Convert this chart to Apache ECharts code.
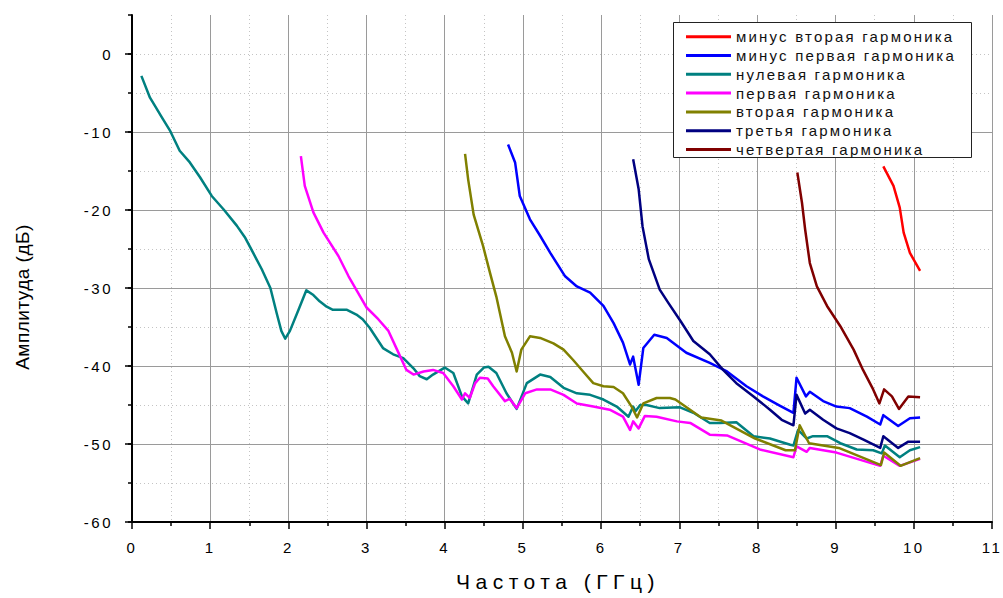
<!DOCTYPE html>
<html>
<head>
<meta charset="utf-8">
<script src="https://cdn.jsdelivr.net/npm/echarts@6/dist/echarts.min.js"></script>
<style>
  html, body { margin: 0; padding: 0; background: #fff; }
  #chart { width: 1003px; height: 598px; }
</style>
</head>
<body>
<div id="chart"></div>
<script>
// Harmonic spectra: frequency (GHz) vs amplitude (dB)
const seriesNames = [
  'минус вторая гармоника',
  'минус первая гармоника',
  'нулевая гармоника',
  'первая гармоника',
  'вторая гармоника',
  'третья гармоника',
  'четвертая гармоника'
];
const seriesColors = ['#ff0000', '#0000ff', '#008080', '#ff00ff', '#808000', '#000080', '#800000'];

const xTickValues = [0, 1, 2, 3, 4, 5, 6, 7, 8, 9, 10, 11];
const yTickValues = [-60, -50, -40, -30, -20, -10, 0];
const xAxisTitle = 'Частота (ГГц)';
const yAxisTitle = 'Амплитуда (дБ)';

const minus2Freq = [9.61, 9.74, 9.82, 9.87, 9.95, 10.08];
const minus2Amp  = [-14.4, -16.9, -19.7, -22.9, -25.5, -27.8];

const minus1Freq = [4.81, 4.90, 4.96, 5.09, 5.22, 5.35, 5.54, 5.69, 5.86, 6.03, 6.16, 6.28, 6.37, 6.41, 6.48, 6.54, 6.68, 6.84, 7.09, 7.39, 7.61, 7.86, 8.07, 8.29, 8.46, 8.50, 8.62, 8.67, 8.84, 9.01, 9.18, 9.40, 9.57, 9.61, 9.80, 9.95, 10.08];
const minus1Amp  = [-11.6, -13.9, -18.2, -21.2, -23.3, -25.5, -28.5, -29.8, -30.6, -32.3, -34.5, -37.0, -39.8, -38.8, -42.4, -37.7, -36.0, -36.4, -38.3, -39.6, -40.7, -42.6, -43.9, -45.1, -46.0, -41.5, -43.9, -43.3, -44.5, -45.2, -45.4, -46.5, -47.5, -46.3, -47.7, -46.7, -46.6];

const zeroFreq = [0.12, 0.23, 0.29, 0.38, 0.49, 0.61, 0.74, 0.87, 1.02, 1.17, 1.34, 1.45, 1.55, 1.66, 1.77, 1.85, 1.91, 1.96, 2.02, 2.13, 2.23, 2.32, 2.40, 2.49, 2.57, 2.75, 2.87, 2.95, 3.04, 3.21, 3.34, 3.47, 3.60, 3.68, 3.77, 3.85, 4.00, 4.11, 4.22, 4.30, 4.41, 4.50, 4.56, 4.66, 4.79, 4.92, 5.05, 5.22, 5.35, 5.52, 5.69, 5.86, 6.03, 6.20, 6.35, 6.41, 6.44, 6.50, 6.58, 6.75, 7.01, 7.18, 7.39, 7.52, 7.73, 7.95, 8.16, 8.42, 8.46, 8.52, 8.63, 8.71, 8.89, 9.06, 9.27, 9.48, 9.59, 9.63, 9.82, 9.95, 10.08];
const zeroAmp  = [-2.8, -5.6, -6.6, -8.1, -9.9, -12.4, -13.9, -15.8, -18.2, -19.9, -22.0, -23.6, -25.5, -27.6, -30.0, -33.2, -35.5, -36.5, -35.5, -32.8, -30.3, -30.9, -31.7, -32.4, -32.8, -32.8, -33.4, -34.0, -35.1, -37.7, -38.5, -39.0, -40.3, -41.3, -41.7, -41.1, -40.2, -40.9, -43.9, -44.8, -41.1, -40.2, -40.1, -40.9, -43.5, -45.5, -42.2, -41.1, -41.4, -42.8, -43.5, -43.7, -44.3, -45.2, -46.5, -45.2, -45.8, -45.0, -45.0, -45.4, -45.3, -46.0, -47.3, -47.3, -47.2, -49.0, -49.3, -50.1, -50.2, -48.2, -49.3, -49.0, -49.0, -49.9, -50.7, -50.8, -51.2, -50.2, -51.7, -50.8, -50.4];

const firstFreq = [2.16, 2.21, 2.32, 2.45, 2.64, 2.77, 2.89, 3.00, 3.15, 3.28, 3.39, 3.51, 3.60, 3.73, 3.85, 3.98, 4.11, 4.22, 4.26, 4.32, 4.39, 4.45, 4.55, 4.62, 4.77, 4.83, 4.92, 5.03, 5.18, 5.35, 5.52, 5.69, 5.90, 6.11, 6.28, 6.37, 6.41, 6.48, 6.56, 6.71, 6.97, 7.14, 7.39, 7.61, 8.03, 8.46, 8.50, 8.63, 8.67, 9.01, 9.57, 9.61, 9.82, 10.08];
const firstAmp  = [-13.1, -16.9, -20.3, -22.9, -25.9, -28.5, -30.6, -32.5, -34.0, -35.5, -37.9, -40.5, -41.1, -40.7, -40.5, -40.9, -42.6, -44.3, -43.5, -44.1, -42.2, -41.5, -41.6, -42.6, -44.5, -44.2, -45.4, -43.5, -43.0, -43.0, -43.7, -44.8, -45.2, -45.6, -46.5, -48.2, -47.1, -48.0, -46.4, -46.5, -47.1, -47.3, -48.8, -48.9, -50.7, -51.7, -50.3, -51.0, -50.5, -51.1, -52.8, -51.5, -52.8, -51.9];

const secondFreq = [4.26, 4.30, 4.37, 4.49, 4.58, 4.66, 4.77, 4.86, 4.92, 4.98, 5.09, 5.22, 5.39, 5.52, 5.64, 5.77, 5.90, 6.03, 6.16, 6.28, 6.39, 6.46, 6.54, 6.71, 6.88, 6.95, 7.28, 7.54, 7.97, 8.36, 8.48, 8.54, 8.66, 9.04, 9.58, 9.62, 9.83, 10.08];
const secondAmp  = [-12.8, -16.1, -20.6, -24.6, -28.1, -31.1, -36.2, -38.3, -40.7, -37.9, -36.2, -36.4, -37.1, -37.9, -39.2, -40.7, -42.2, -42.6, -42.7, -43.5, -45.2, -46.6, -44.8, -44.1, -44.1, -44.3, -46.6, -47.0, -49.3, -50.8, -50.8, -47.6, -49.9, -50.5, -52.7, -51.1, -52.8, -51.8];

const thirdFreq = [6.41, 6.48, 6.53, 6.61, 6.75, 6.86, 7.02, 7.18, 7.39, 7.56, 7.73, 7.95, 8.16, 8.31, 8.46, 8.50, 8.61, 8.67, 8.84, 9.01, 9.18, 9.35, 9.57, 9.61, 9.80, 9.93, 10.08];
const thirdAmp  = [-13.5, -17.3, -22.1, -26.3, -30.2, -31.9, -34.3, -36.8, -38.5, -40.5, -42.2, -43.9, -45.6, -46.9, -47.6, -43.7, -46.1, -45.6, -46.9, -48.0, -48.6, -49.4, -50.5, -49.0, -50.5, -49.7, -49.7];

const fourthFreq = [8.51, 8.57, 8.61, 8.67, 8.76, 8.89, 9.06, 9.23, 9.35, 9.48, 9.56, 9.62, 9.72, 9.81, 9.93, 10.08];
const fourthAmp  = [-15.2, -19.1, -22.5, -26.8, -29.8, -32.3, -34.9, -37.9, -40.5, -43.0, -44.8, -43.0, -43.9, -45.5, -43.9, -44.0];

const curves = [
  [minus2Freq, minus2Amp],
  [minus1Freq, minus1Amp],
  [zeroFreq, zeroAmp],
  [firstFreq, firstAmp],
  [secondFreq, secondAmp],
  [thirdFreq, thirdAmp],
  [fourthFreq, fourthAmp]
];

const chart = echarts.init(document.getElementById('chart'), null, { renderer: 'svg' });

const font = 'Arial';
const gridColor = '#9a9a9a';
const minorGridColor = '#c4c4c4';

const option = {
  animation: false,
  backgroundColor: '#fff',
  grid: { left: 132, right: 11, top: 15, bottom: 76, containLabel: false },
  xAxis: {
    type: 'value', min: 0, max: 11, interval: 1,
    axisLine: { show: true, onZero: false, lineStyle: { color: '#000', width: 2 } },
    axisTick: { show: true, inside: false, length: 7, lineStyle: { color: '#000', width: 1.5 } },
    minorTick: { show: true, splitNumber: 2, length: 4, lineStyle: { color: '#000', width: 1.5 } },
    axisLabel: {
      color: '#000', fontFamily: font, fontSize: 15, margin: 18,
      customValues: xTickValues
    },
    splitLine: { show: true, lineStyle: { color: gridColor, width: 1 } },
    minorSplitLine: { show: true, lineStyle: { color: minorGridColor, width: 1, type: [1, 3] } }
  },
  yAxis: [
    {
      // minor divisions every 5 dB
      type: 'value', min: -60, max: 5, interval: 5, position: 'left',
      axisLine: { show: false },
      axisTick: { show: true, inside: false, length: 4, lineStyle: { color: '#000', width: 1.5 } },
      axisLabel: { show: false },
      splitLine: { show: true, showMinLine: false, showMaxLine: false, lineStyle: { color: minorGridColor, width: 1, type: [1, 3] } }
    },
    {
      type: 'value', min: -60, max: 5, interval: 10, position: 'left',
      axisLine: { show: true, onZero: false, lineStyle: { color: '#000', width: 2 } },
      axisTick: { show: true, inside: false, length: 7, lineStyle: { color: '#000', width: 1.5 }, customValues: yTickValues },
      axisLabel: {
        color: '#000', fontFamily: font, fontSize: 15, margin: 19,
        customValues: yTickValues
      },
      splitLine: { show: true, showMinLine: false, showMaxLine: false, lineStyle: { color: gridColor, width: 1 } }
    }
  ],
  legend: {
    orient: 'vertical', left: 686, top: 27.3, padding: 0,
    itemWidth: 45, itemHeight: 3, itemGap: 0, icon: 'rect',
    textStyle: { color: '#111', fontFamily: font, fontSize: 15, lineHeight: 18.8, padding: [0, 0, 0, 0] },
    data: seriesNames, selectedMode: false, z: 10
  },
  graphic: [
    {
      type: 'rect', z: 5,
      shape: { x: 673.5, y: 22.5, width: 298, height: 135 },
      style: { fill: '#fff', stroke: '#222', lineWidth: 1 }
    },
    {
      type: 'text', z: 5, x: 22, y: 297, rotation: Math.PI / 2,
      style: { text: yAxisTitle, font: '19px Arial', fill: '#000', align: 'center', verticalAlign: 'middle' }
    },
    {
      type: 'text', z: 5, x: 558, y: 581,
      style: { text: xAxisTitle, font: '21px Arial', fill: '#000', align: 'center', verticalAlign: 'middle' }
    }
  ],
  series: curves.map((c, i) => ({
    name: seriesNames[i],
    type: 'line',
    yAxisIndex: 1,
    data: c[0].map((f, k) => [f, c[1][k]]),
    showSymbol: false,
    symbol: 'none',
    color: seriesColors[i],
    lineStyle: { color: seriesColors[i], width: 2.5, join: 'round' },
    emphasis: { disabled: true },
    z: 2
  }))
};

chart.setOption(option);

// Wide tracking for the printed text, as in the original plotting style
function spaceText() {
  const dom = document.getElementById('chart');
  dom.querySelectorAll('text').forEach(t => {
    const s = t.textContent;
    let sp = 2.5;
    if (seriesNames.includes(s)) sp = 2.2;
    else if (s === xAxisTitle) sp = 5.5;
    else if (s === yAxisTitle) sp = 0.5;
    t.setAttribute('letter-spacing', sp);
  });
}
chart.on('finished', spaceText);
setTimeout(spaceText, 50);
</script>
</body>
</html>
